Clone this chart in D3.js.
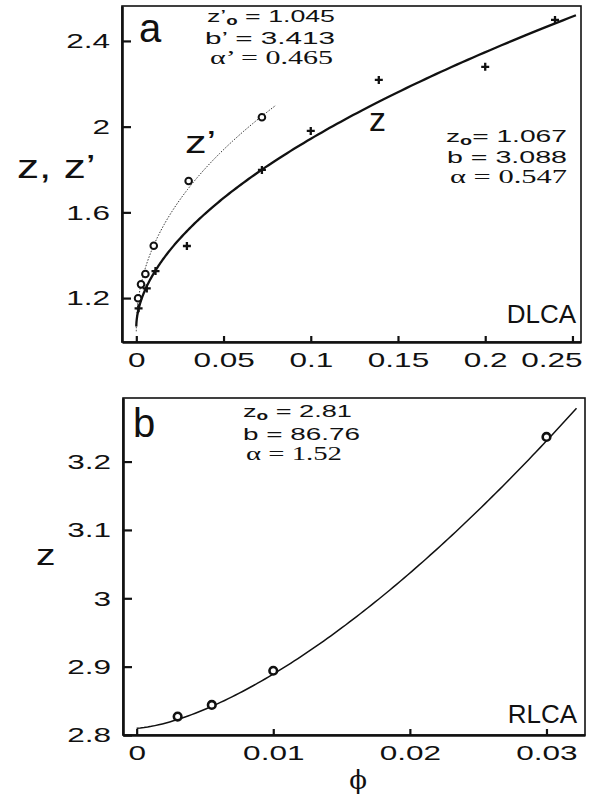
<!DOCTYPE html>
<html>
<head>
<meta charset="utf-8">
<script src="https://cdn.jsdelivr.net/npm/d3@7"></script>
<style>
  html, body { margin: 0; padding: 0; background: #fff; }
  svg text { fill: #111; }
</style>
</head>
<body>
<svg id="chart" width="592" height="800"></svg>
<script>
'use strict';

// --- data ---
// panel a, DLCA: z (crosses) and z' (circles) vs volume fraction phi
const phiZ   = [0.0013, 0.006, 0.011, 0.029, 0.072, 0.1, 0.139, 0.2, 0.24];
const zVals  = [1.152, 1.245, 1.326, 1.443, 1.798, 1.98, 2.218, 2.279, 2.498];
const phiZp  = [0.001, 0.0027, 0.0052, 0.010, 0.030, 0.072];
const zpVals = [1.199, 1.264, 1.312, 1.444, 1.746, 2.044];

// panel b, RLCA
const phiB = [0.003, 0.0055, 0.01, 0.03];
const zB   = [2.827, 2.844, 2.894, 3.236];

// fit parameters printed on the figure: [z0, b, alpha], z = z0 + b * phi^alpha
const fitZ  = [1.067, 3.088, 0.547];
const fitZp = [1.045, 3.413, 0.465];
const fitB  = [2.81, 86.76, 1.52];
const fitEndA  = 0.252;   // last phi of the z curve
const fitEndAp = 0.08;    // last phi of the z' curve
const fitEndB  = 0.0322;

// tick values
const xTicksA = [0, 0.05, 0.1, 0.15, 0.2, 0.25];
const yTicksA = [1.2, 1.6, 2, 2.4];
const xTicksB = [0, 0.01, 0.02, 0.03];
const yTicksB = [2.8, 2.9, 3, 3.1, 3.2];

const SANS  = '"Liberation Sans", Arial, Helvetica, sans-serif';
const SERIF = '"Liberation Serif", "Times New Roman", serif';

const svg = d3.select('#chart');

// widen a text horizontally by k, keeping its anchor point in place;
// maxRight (local coords) keeps it from running past the frame
function stretch(sel, k, maxRight) {
  sel.each(function () {
    const el = d3.select(this);
    const w = this.getComputedTextLength();
    const anchor = getComputedStyle(this).textAnchor;
    const x = +el.attr('x') || 0;
    let x0 = x;
    if (anchor === 'middle') x0 = x - w * k / 2;
    else if (anchor === 'end') x0 = x - w * k;
    if (maxRight != null) x0 = Math.min(x0, maxRight - w * k);
    el.attr('x', x0).attr('text-anchor', 'start')
      .attr('textLength', w * k).attr('lengthAdjust', 'spacingAndGlyphs');
  });
}

function fitLine(p, end, n, power) {
  return d3.range(n + 1).map(i => {
    const phi = end * Math.pow(i / n, power);
    return [phi, p[0] + p[1] * Math.pow(phi, p[2])];
  });
}

function frame(x, y) {
  const [x0, x1] = x.range();
  const [y0, y1] = y.range();
  svg.append('rect')
    .attr('x', x0).attr('y', y1)
    .attr('width', x1 - x0).attr('height', y0 - y1)
    .attr('fill', 'none').attr('stroke', '#111').attr('stroke-width', 1.6);
}

function axes(x, y, xt, yt, xfmt, yfmt) {
  const gx = svg.append('g')
    .attr('transform', `translate(0,${y.range()[0]})`)
    .call(d3.axisBottom(x).tickValues(xt).tickFormat(xfmt).tickSize(-6).tickSizeOuter(0).tickPadding(10));
  const gy = svg.append('g')
    .attr('transform', `translate(${x.range()[0]},0)`)
    .call(d3.axisLeft(y).tickValues(yt).tickFormat(yfmt).tickSize(-9).tickSizeOuter(0).tickPadding(12));
  for (const g of [gx, gy]) {
    g.select('.domain').attr('stroke', '#111').attr('stroke-width', 2.6);
    g.selectAll('.tick line').attr('stroke', '#111').attr('stroke-width', 2.2);
    g.selectAll('.tick text')
      .attr('font-family', SANS).attr('font-size', 21).attr('fill', '#111');
  }
  // bottom labels: keep the last one inside the frame's right edge
  gx.selectAll('.tick').each(function (d) {
    stretch(d3.select(this).select('text'), 1.5, x.range()[1] + 1 - x(d));
  });
  stretch(gy.selectAll('.tick text'), 1.5);
}

function crosses(data, x, y, s) {
  svg.append('g').selectAll('path').data(data).join('path')
    .attr('d', d => {
      const cx = x(d[0]), cy = y(d[1]);
      return `M${cx - s},${cy}H${cx + s}M${cx},${cy - s}V${cy + s}`;
    })
    .attr('stroke', '#111').attr('stroke-width', 2.3).attr('fill', 'none');
}

function circles(data, x, y, r, sw) {
  svg.append('g').selectAll('circle').data(data).join('circle')
    .attr('cx', d => x(d[0])).attr('cy', d => y(d[1])).attr('r', r)
    .attr('fill', '#fff').attr('stroke', '#111').attr('stroke-width', sw);
}

// parameter block line: parts are [text, sub?]
function annot(x, y, parts, family, size, width) {
  const t = svg.append('text')
    .attr('x', x).attr('y', y)
    .attr('font-family', family).attr('font-size', size);
  let shift = 0;
  for (const [txt, sub] of parts) {
    const dy = sub ? 3 - shift : -shift;
    shift = sub ? 3 : 0;
    t.append('tspan').attr('dy', dy)
      .attr('font-size', sub ? size * 0.7 : null)
      .attr('font-weight', sub ? 'bold' : null)
      .text(txt);
  }
  t.attr('textLength', width).attr('lengthAdjust', 'spacingAndGlyphs');
  return t;
}

function label(x, y, txt, family, size, anchor, k) {
  const t = svg.append('text')
    .attr('x', x).attr('y', y)
    .attr('font-family', family).attr('font-size', size)
    .attr('text-anchor', anchor || 'start')
    .text(txt);
  if (k) stretch(t, k);
  return t;
}

// ================= panel a =================
const xA = d3.scaleLinear().domain([-0.0082, 0.2549]).range([122, 581]);
const yA = d3.scaleLinear().domain([0.995, 2.563]).range([342, 6]);

frame(xA, yA);

const line = (x, y) => d3.line().x(d => x(d[0])).y(d => y(d[1]));

svg.append('path')
  .datum(fitLine(fitZp, fitEndAp, 120, 3))
  .attr('d', line(xA, yA))
  .attr('fill', 'none').attr('stroke', '#333').attr('stroke-width', 1)
  .attr('stroke-dasharray', '1.5 1.5');

svg.append('path')
  .datum(fitLine(fitZ, fitEndA, 200, 3))
  .attr('d', line(xA, yA))
  .attr('fill', 'none').attr('stroke', '#111').attr('stroke-width', 2.3);

axes(xA, yA, xTicksA, yTicksA, d => d === 0 ? '0' : String(d), d => String(d));

crosses(phiZ.map((p, i) => [p, zVals[i]]), xA, yA, 4);
circles(phiZp.map((p, i) => [p, zpVals[i]]), xA, yA, 3.3, 2);

label(139, 42, 'a', SANS, 40);
label(17, 178, 'z, z\u2019', SANS, 34, 'start', 1.3);
label(185, 153, 'z\u2019', SANS, 32, 'start', 1.35);
label(369, 131, 'z', SANS, 34);
label(576, 323, 'DLCA', SANS, 26, 'end');

annot(207, 22, [['z\u2019'], ['o', true], [' = ' + fitZp[0].toFixed(3)]], SANS, 17, 128);
annot(205, 44, [['b\u2019 = ' + fitZp[1].toFixed(3)]], SANS, 17, 130);
annot(210, 64, [['\u03b1\u2019 = ' + fitZp[2].toFixed(3)]], SERIF, 19, 123);

annot(446, 142, [['z'], ['o', true], ['= ' + fitZ[0].toFixed(3)]], SANS, 17, 121);
annot(447, 163, [['b  = ' + fitZ[1].toFixed(3)]], SANS, 17, 120);
annot(450, 183, [['\u03b1  = ' + fitZ[2].toFixed(3)]], SERIF, 19, 117);

// ================= panel b =================
const xB = d3.scaleLinear().domain([-0.0010, 0.03282]).range([123, 585]);
const yB = d3.scaleLinear().domain([2.8, 3.293]).range([735, 398]);

frame(xB, yB);

svg.append('path')
  .datum(fitLine(fitB, fitEndB, 120, 1))
  .attr('d', line(xB, yB))
  .attr('fill', 'none').attr('stroke', '#111').attr('stroke-width', 1.5);

axes(xB, yB, xTicksB, yTicksB, d => d === 0 ? '0' : String(d), d => String(d));

circles(phiB.map((p, i) => [p, zB[i]]), xB, yB, 3.8, 2.6);

label(133, 437, 'b', SANS, 40);
label(36, 565, 'z', SANS, 30, 'start', 1.3);
label(358, 789, '\u03d5', '"DejaVu Serif", ' + SERIF, 26, 'middle');
label(577, 723, 'RLCA', SANS, 26, 'end');

annot(243, 417, [['z'], ['o', true], [' = ' + fitB[0].toFixed(2)]], SANS, 17, 109);
annot(243, 440, [['b = ' + fitB[1].toFixed(2)]], SANS, 17, 117);
annot(246, 460, [['\u03b1 = ' + fitB[2].toFixed(2)]], SERIF, 19, 96);
</script>
</body>
</html>
